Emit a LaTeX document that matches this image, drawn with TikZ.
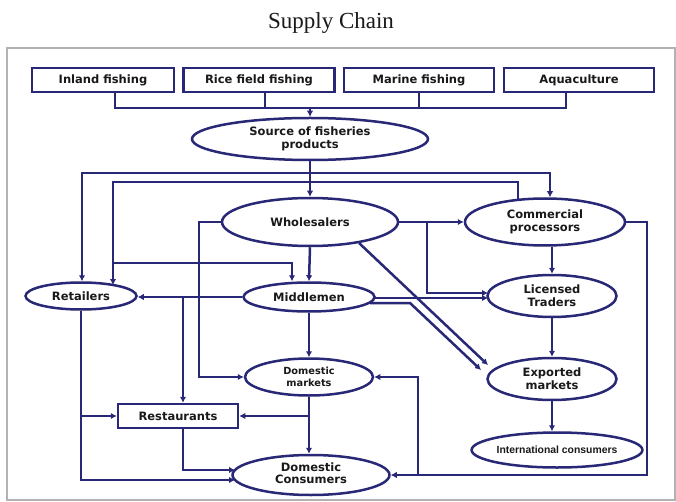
\documentclass[tikz,border=0pt]{standalone}
\usepackage{fontspec}
\setmainfont{Liberation Serif}
\newfontfamily\lbl{DejaVu Sans}
\newfontfamily\arl{Liberation Sans}
\usetikzlibrary{shapes.geometric,arrows.meta,calc}
\definecolor{navy}{RGB}{40,40,118}
\definecolor{txt}{RGB}{25,25,25}
\begin{document}
\begin{tikzpicture}[x=1pt,y=-1pt,
  ln/.style={draw=navy, line width=2.5pt},
  ar/.style={ln, -{Latex[length=6pt,width=6.5pt]}},
  lf/.style={font=\lbl\bfseries\fontsize{11.5}{13}\selectfont, text=txt, align=center},
  ell/.style={ellipse, draw=navy, line width=2.5pt, inner sep=0pt, lf},
  boxn/.style={rectangle, draw=navy, line width=2.5pt, inner sep=0pt, lf}]
\useasboundingbox (0,0) rectangle (676,502);
\fill[white] (0,0) rectangle (676,502);
\node[font=\fontsize{23}{26}\selectfont, text=black!90, anchor=base] (title) at (331,29) {Supply Chain};
\draw[gray!60, line width=1.2pt] (7,48) rectangle (675,500);

% top boxes
\node[boxn, minimum width=142pt, minimum height=24pt] (inl)  at (103,80) {Inland fishing};
\node[boxn, minimum width=151pt, minimum height=24pt] (rice) at (259,80) {Rice field fishing};
\node[boxn, minimum width=150pt, minimum height=24pt] (mar)  at (419,80) {Marine fishing};
\node[boxn, minimum width=150pt, minimum height=24pt] (aqu)  at (579,80) {Aquaculture};

% ellipses
\node[ell, minimum width=236pt, minimum height=42pt] (src) at (310,139) {Source of fisheries\\products};
\node[ell, minimum width=176pt, minimum height=48pt] (whl) at (310,222) {Wholesalers};
\node[ell, minimum width=160pt, minimum height=47pt] (com) at (545,222) {Commercial\\processors};
\node[ell, minimum width=111pt, minimum height=27pt] (ret) at (81,296) {Retailers};
\node[ell, minimum width=131pt, minimum height=29pt] (mid) at (309,297) {Middlemen};
\node[ell, minimum width=129pt, minimum height=42pt] (lic) at (552,296) {Licensed\\Traders};
\node[ell, minimum width=128pt, minimum height=37pt, font=\lbl\bfseries\fontsize{9.8}{11.5}\selectfont] (dmk) at (309,377) {Domestic\\markets};
\node[ell, minimum width=129pt, minimum height=42pt] (exp) at (552,379) {Exported\\markets};
\node[boxn, minimum width=120pt, minimum height=24pt] (res) at (178,416) {Restaurants};
\node[ell, minimum width=157pt, minimum height=40pt] (dcon) at (311,475) {\raisebox{-5pt}{\begin{tabular}{@{}c@{}}Domestic\\[-1pt]Consumers\end{tabular}}};
\node[ell, minimum width=150pt, minimum height=35pt, font=\arl\bfseries\fontsize{10.4}{12}\selectfont] (int) at (557,450) {International consumers};

% helper coordinates
\coordinate (bar) at (310,107);
\coordinate (vA) at (82,173);
\coordinate (vB) at (550,173);
\coordinate (vC) at (113,182);
\coordinate (vE) at (292,263);
\coordinate (vF) at (199,0);
\coordinate (vG) at (427,0);
\coordinate (vH) at (183,0);
\coordinate (vI) at (647,0);
\coordinate (vJ) at (418,0);

% top collector
\draw[ln] ($(inl.south)+(12,0)$) |- ($(aqu.south)+(-13,15)$) -- ($(aqu.south)+(-13,0)$);
\draw[ln] ($(rice.south)+(6,0)$) -- ++(0,15);
\draw[ln] (mar.south) -- ++(0,15);
\draw[ar] (bar) -- (src.north);

% source distribution
\draw[ar] (src.south) -- (whl.north);
\draw[ar] (src.south |- vA) -| (vA |- ret.north);
\draw[ar] (src.south |- vB) -| (vB |- com.north);

% commercial processors back to retailers and middlemen
\draw[ar] ($(com.center)+(-27,-22)$) |- (vC) -- ($(ret.center)+(32,-11)$);
\draw[ar] (vC |- vE) -- (vE) -- (vE |- mid.north);

% wholesalers
\draw[ar] (whl.west) -| (vF |- dmk.west) -- (dmk.west);
\draw[ar] (whl.south) -- (mid.north);
\draw[ar] (whl.east) -- (com.west);
\draw[ar] (whl.east -| vG) |- ($(lic.center)+(-64,-3)$);
\draw[ar] ($(whl.center)+(49,21)$) -- ($(exp.center)+(-64,-14)$);

% middlemen
\draw[ar] ($(mid.center)+(65,1)$) -- ($(lic.center)+(-64,2)$);
\draw[ar] ($(mid.center)+(61,6)$) -- ++(40,0) -- ($(exp.center)+(-71,-9)$);
\draw[ar] (mid.west) -- (mid.west -| ret.east);
\draw[ar] (mid.west -| vH) -- (vH |- res.north);
\draw[ar] (mid.south) -- (dmk.north);

% retailers
\draw[ar] (ret.south) |- ($(dcon.center)+(-76,5)$);
\draw[ar] (ret.south |- res.west) -- (res.west);

% restaurants
\draw[ar] (vH |- res.south) |- ($(dcon.center)+(-76,-5)$);

% domestic markets
\draw[ar] (dmk.south) -- (dmk.south |- dcon.north);
\draw[ar] (dmk.south |- res.east) -- (res.east);

% commercial processors right side
\draw[ar] (com.east) -| (vI |- dcon.east) -- (dcon.east);
\draw[ar] (vJ |- dcon.east) |- (dmk.east);

% export chain
\draw[ar] (lic.north |- com.south) -- (lic.north);
\draw[ar] (lic.south) -- (exp.north);
\draw[ar] (exp.south) -- (exp.south |- int.north);
\end{tikzpicture}
\end{document}
